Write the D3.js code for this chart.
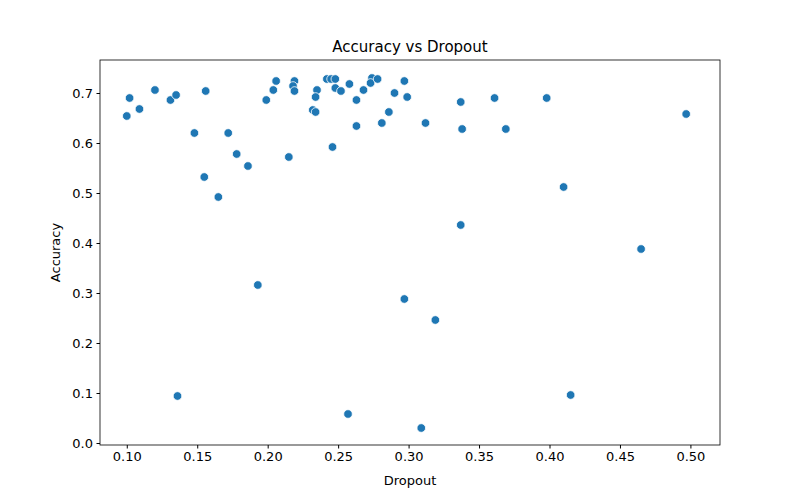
<!DOCTYPE html>
<html><head><meta charset="utf-8">
<script src="https://cdn.jsdelivr.net/npm/d3@7"></script>
<style>body{margin:0;background:#fff}text{font-family:"DejaVu Sans",sans-serif;fill:#000}</style>
</head><body><svg id="c" width="800" height="500"></svg>
<script>
// dropout / accuracy pairs
var dropout = [0.100,0.102,0.109,0.120,0.131,0.135,0.156,0.148,0.172,0.178,0.186,0.155,0.165,0.215,0.193,0.136,
  0.199,0.204,0.206,0.219,0.218,0.219,0.235,0.234,0.232,0.234,0.246,0.242,0.245,0.248,0.248,0.252,0.258,0.263,0.263,
  0.268,0.274,0.273,0.278,0.290,0.297,0.299,0.286,0.281,0.312,0.337,0.338,0.337,0.361,0.369,0.398,0.410,0.465,0.497,
  0.415,0.297,0.319,0.257,0.309];
var accuracy = [0.654,0.690,0.668,0.706,0.686,0.696,0.704,0.620,0.620,0.578,0.554,0.532,0.492,0.572,0.316,0.094,
  0.686,0.706,0.724,0.724,0.714,0.704,0.706,0.692,0.666,0.662,0.592,0.728,0.728,0.728,0.710,0.704,0.718,0.686,0.634,
  0.706,0.730,0.720,0.728,0.700,0.724,0.692,0.662,0.640,0.640,0.682,0.628,0.436,0.690,0.628,0.690,0.512,0.388,0.658,
  0.096,0.288,0.246,0.058,0.030];
var xTicks = [0.10,0.15,0.20,0.25,0.30,0.35,0.40,0.45,0.50];
var yTicks = [0.0,0.1,0.2,0.3,0.4,0.5,0.6,0.7];

var svg = d3.select("#c");
var L=100,R=720,T=60,B=445;
var x = d3.scaleLinear().domain([0.081,0.521]).range([L,R]);
var y = d3.scaleLinear().domain([-0.004,0.766]).range([B,T]);

var gx = svg.append("g").attr("transform","translate(0,"+B+")")
  .call(d3.axisBottom(x).tickValues(xTicks).tickFormat(d3.format(".2f")).tickSizeOuter(0).tickSize(3.5).tickPadding(3.5));
var gy = svg.append("g").attr("transform","translate("+L+",0)")
  .call(d3.axisLeft(y).tickValues(yTicks).tickFormat(d3.format(".1f")).tickSizeOuter(0).tickSize(3.5).tickPadding(3.5));
[gx,gy].forEach(function(g){g.select(".domain").remove();g.selectAll("text").style("font-size","13px");g.selectAll("line").attr("stroke","#000");});
svg.append("rect").attr("x",L).attr("y",T).attr("width",R-L).attr("height",B-T)
  .attr("fill","none").attr("stroke","#000").attr("stroke-width",0.8);

svg.selectAll("circle.p").data(dropout).enter().append("circle")
  .attr("cx",function(d){return x(d);})
  .attr("cy",function(d,i){return y(accuracy[i]);})
  .attr("r",4.3).attr("fill","#1f77b4").attr("stroke","#fff").attr("stroke-width",0.8);

svg.append("text").attr("x",(L+R)/2).attr("y",T-8).attr("text-anchor","middle").style("font-size","15px").text("Accuracy vs Dropout");
svg.append("text").attr("x",(L+R)/2).attr("y",485).attr("text-anchor","middle").style("font-size","13px").text("Dropout");
svg.append("text").attr("transform","translate(60,"+((T+B)/2)+") rotate(-90)").attr("text-anchor","middle").style("font-size","13px").text("Accuracy");
</script></body></html>
